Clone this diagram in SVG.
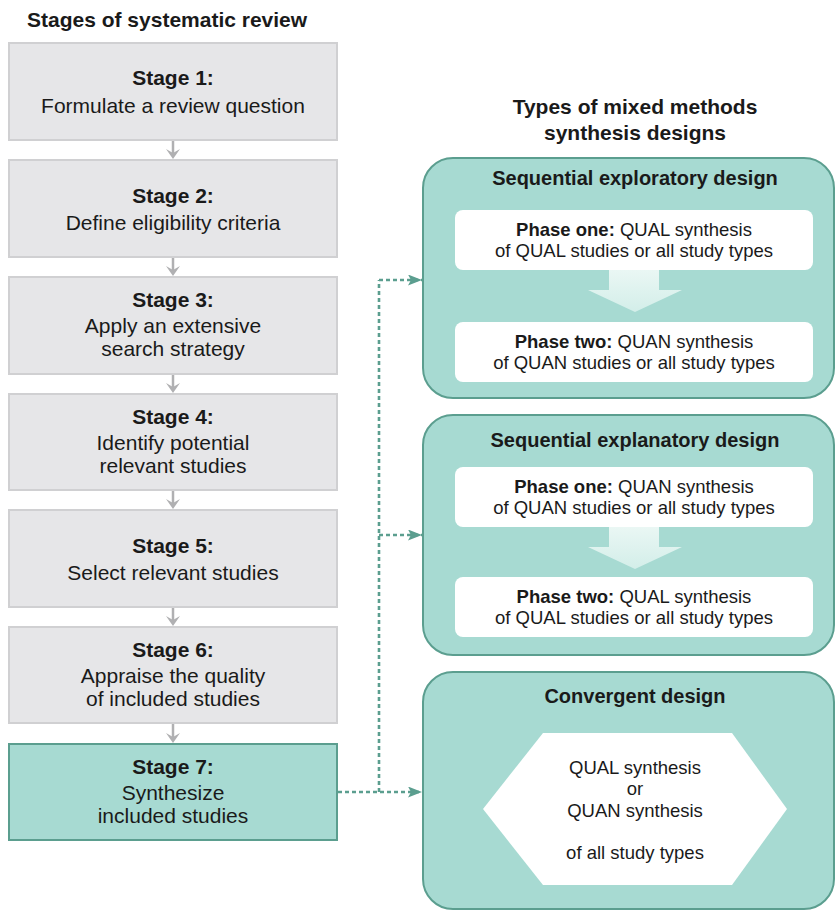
<svg xmlns="http://www.w3.org/2000/svg" width="838" height="911" viewBox="0 0 838 911">
<defs>
<style>
text{font-family:"Liberation Sans",Arial,sans-serif;fill:#1a1a1a;}
.title{font-size:21px;font-weight:bold;}
.st{font-size:21px;text-anchor:middle;}
.stb{font-size:21px;font-weight:bold;text-anchor:middle;}
.dt{font-size:20px;font-weight:bold;text-anchor:middle;}
.ph{font-size:18.5px;text-anchor:middle;}
.b{font-weight:bold;}
.gray{fill:#e6e6e8;stroke:#d0d0d2;stroke-width:2;}
.teal{fill:#a7dad2;stroke:#5b9e8f;stroke-width:2;}
.white{fill:#ffffff;}
.down{fill:url(#dg);}
.garrow{stroke:#b0b0b2;stroke-width:2.5;fill:none;}
.ghead{fill:#b0b0b2;}
.dash{stroke:#5b9e8f;stroke-width:2.6;fill:none;stroke-dasharray:4 3;}
</style>
<linearGradient id="dg" x1="0" y1="0" x2="0" y2="1">
<stop offset="0" stop-color="#eaf7f4"/>
<stop offset="1" stop-color="#d3eee9"/>
</linearGradient>
<marker id="ta" markerWidth="14" markerHeight="11" refX="14" refY="5.5" orient="auto" markerUnits="userSpaceOnUse">
<path d="M0,0 L14,5.5 L0,11 L3,5.5 Z" fill="#5b9e8f"/>
</marker>
</defs>

<text class="title" x="27" y="27">Stages of systematic review</text>

<g id="stage1"><rect class="gray" x="9" y="43" width="328" height="97"/>
<text class="stb" x="173" y="85">Stage 1:</text><text class="st" x="173" y="113">Formulate a review question</text></g>
<g id="stage2"><rect class="gray" x="9" y="160" width="328" height="97"/>
<text class="stb" x="173" y="203">Stage 2:</text><text class="st" x="173" y="230">Define eligibility criteria</text></g>
<g id="stage3"><rect class="gray" x="9" y="277" width="328" height="97"/>
<text class="stb" x="173" y="307">Stage 3:</text><text class="st" x="173" y="333">Apply an extensive</text><text class="st" x="173" y="356">search strategy</text></g>
<g id="stage4"><rect class="gray" x="9" y="394" width="328" height="96"/>
<text class="stb" x="173" y="424">Stage 4:</text><text class="st" x="173" y="450">Identify potential</text><text class="st" x="173" y="473">relevant studies</text></g>
<g id="stage5"><rect class="gray" x="9" y="510" width="328" height="97"/>
<text class="stb" x="173" y="553">Stage 5:</text><text class="st" x="173" y="580">Select relevant studies</text></g>
<g id="stage6"><rect class="gray" x="9" y="627" width="328" height="96"/>
<text class="stb" x="173" y="657">Stage 6:</text><text class="st" x="173" y="683">Appraise the quality</text><text class="st" x="173" y="706">of included studies</text></g>
<g id="stage7"><rect class="teal" x="9" y="744" width="328" height="96"/>
<text class="stb" x="173" y="774">Stage 7:</text><text class="st" x="173" y="800">Synthesize</text><text class="st" x="173" y="823">included studies</text></g>

<text class="dt" x="635" y="114" style="font-size:21px">Types of mixed methods</text>
<text class="dt" x="635" y="140" style="font-size:21px">synthesis designs</text>

<g id="exploratory">
<rect class="teal" x="423" y="158" width="411" height="240" rx="30"/>
<text class="dt" x="635" y="185">Sequential exploratory design</text>
<rect class="white" x="455" y="210" width="358" height="60" rx="8"/>
<text class="ph" x="634" y="236"><tspan class="b">Phase one:</tspan> QUAL synthesis</text>
<text class="ph" x="634" y="257">of QUAL studies or all study types</text>
<path class="down" d="M609,270 H659 V290 H682 L635,312 L588,290 H609 Z"/>
<rect class="white" x="455" y="322" width="358" height="60" rx="8"/>
<text class="ph" x="634" y="348"><tspan class="b">Phase two:</tspan> QUAN synthesis</text>
<text class="ph" x="634" y="369">of QUAN studies or all study types</text>
</g>

<g id="explanatory">
<rect class="teal" x="423" y="415" width="411" height="240" rx="30"/>
<text class="dt" x="635" y="447">Sequential explanatory design</text>
<rect class="white" x="455" y="467" width="358" height="60" rx="8"/>
<text class="ph" x="634" y="493"><tspan class="b">Phase one:</tspan> QUAN synthesis</text>
<text class="ph" x="634" y="514">of QUAN studies or all study types</text>
<path class="down" d="M609,527 H659 V547 H682 L635,569 L588,547 H609 Z"/>
<rect class="white" x="455" y="577" width="358" height="60" rx="8"/>
<text class="ph" x="634" y="603"><tspan class="b">Phase two:</tspan> QUAL synthesis</text>
<text class="ph" x="634" y="624">of QUAL studies or all study types</text>
</g>

<g id="convergent">
<rect class="teal" x="423" y="672" width="411" height="237" rx="30"/>
<text class="dt" x="635" y="703">Convergent design</text>
<path class="white" d="M543,733 H732 L787,809 L732,885 H543 L483,809 Z"/>
<text class="ph" x="635" y="774">QUAL synthesis</text>
<text class="ph" x="635" y="795">or</text>
<text class="ph" x="635" y="817">QUAN synthesis</text>
<text class="ph" x="635" y="859">of all study types</text>
</g>

<g id="connectors">
<g>
<line class="garrow" x1="173" y1="141" x2="173" y2="155"/><path class="ghead" d="M166,149 L173,159 L180,149 L173,153 Z"/>
<line class="garrow" x1="173" y1="258" x2="173" y2="272"/><path class="ghead" d="M166,266 L173,276 L180,266 L173,270 Z"/>
<line class="garrow" x1="173" y1="375" x2="173" y2="389"/><path class="ghead" d="M166,383 L173,393 L180,383 L173,387 Z"/>
<line class="garrow" x1="173" y1="491" x2="173" y2="505"/><path class="ghead" d="M166,499 L173,509 L180,499 L173,503 Z"/>
<line class="garrow" x1="173" y1="608" x2="173" y2="622"/><path class="ghead" d="M166,616 L173,626 L180,616 L173,620 Z"/>
<line class="garrow" x1="173" y1="724" x2="173" y2="738"/><path class="ghead" d="M166,733 L173,743 L180,733 L173,737 Z"/>
</g>
<path class="dash" d="M338,792 H422" marker-end="url(#ta)"/>
<path class="dash" d="M379,792 V280"/>
<path class="dash" d="M379,280 H422" marker-end="url(#ta)"/>
<path class="dash" d="M379,535 H422" marker-end="url(#ta)"/>
</g>
</svg>
